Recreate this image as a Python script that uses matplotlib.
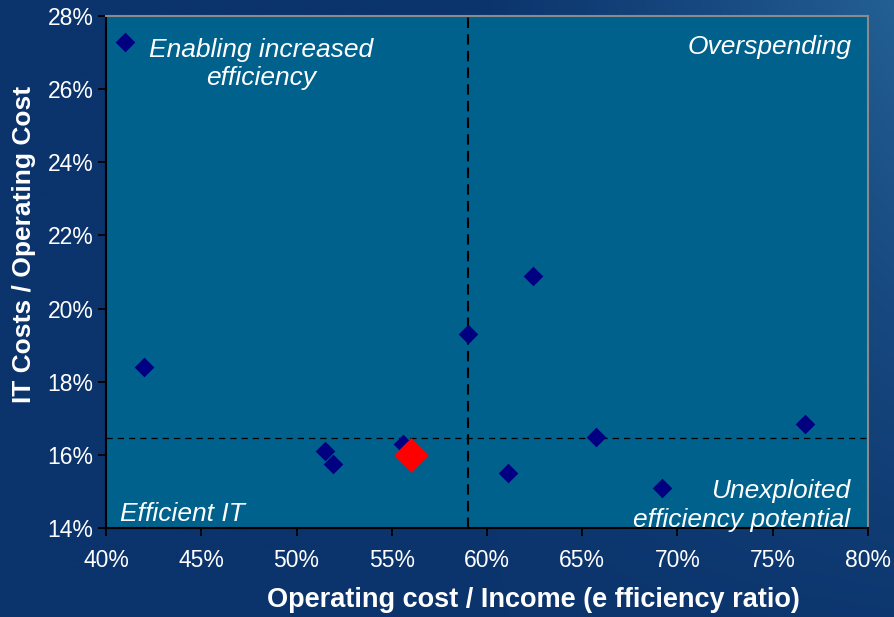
import numpy as np
import matplotlib
matplotlib.use("Agg")
import matplotlib.pyplot as plt
from matplotlib.ticker import FuncFormatter, MultipleLocator

# Data (efficiency ratio %, IT cost share %)
banks_x = [41.0, 42.0, 51.5, 51.9, 55.6, 59.0, 62.4, 61.1, 65.7, 69.2, 76.7]
banks_y = [27.3, 18.4, 16.1, 15.75, 16.3, 19.3, 20.9, 15.5, 16.5, 15.1, 16.85]
highlight_x = [56.0]
highlight_y = [16.0]
avg_x = 59.0
avg_y = 16.45

x_label = "Operating cost / Income (e fficiency ratio)"
y_label = "IT Costs / Operating Cost"
quadrants = [
    ("Enabling increased\nefficiency", 0.203, 0.958, "center", "top"),
    ("Overspending", 0.978, 0.963, "right", "top"),
    ("Efficient IT", 0.018, 0.003, "left", "bottom"),
    ("Unexploited\nefficiency potential", 0.976, -0.008, "right", "bottom"),
]

plt.rcParams['font.family'] = ['Liberation Sans', 'DejaVu Sans']

fig = plt.figure(figsize=(8.95, 6.17), dpi=100)

# background gradient
bg = fig.add_axes([0, 0, 1, 1], zorder=-10)
h, w = 200, 300
yy, xx = np.mgrid[0:1:h*1j, 0:1:w*1j]
c_dark = np.array([0x0b, 0x33, 0x6c]) / 255
c_light = np.array([0x2a, 0x6c, 0x9e]) / 255
t = np.clip((xx - 0.55) * 1.6 * (1 - yy) + 0.1 * xx, 0, 1) ** 1.2
img = c_dark[None, None, :] * (1 - t[..., None]) + c_light[None, None, :] * t[..., None]
bg.imshow(img, aspect='auto', extent=[0, 1, 0, 1], origin='upper')
bg.axis('off')

ax = fig.add_axes([106/895, 1 - 528/617, (868-106)/895, (528-16)/617])
ax.set_facecolor('#00618c')
ax.set_xlim(40, 80)
ax.set_ylim(14, 28)
ax.xaxis.set_major_locator(MultipleLocator(5))
ax.yaxis.set_major_locator(MultipleLocator(2))
fmt = FuncFormatter(lambda v, p: f"{v:.0f}%")
ax.xaxis.set_major_formatter(fmt)
ax.yaxis.set_major_formatter(fmt)

for s in ['left', 'bottom']:
    ax.spines[s].set_color('black')
    ax.spines[s].set_linewidth(1.5)
for s in ['top', 'right']:
    ax.spines[s].set_color('#8a8a8a')
    ax.spines[s].set_linewidth(1.5)

ax.tick_params(axis='both', direction='out', length=6, width=1.3, color='black',
               labelcolor='white', labelsize=16.5)
ax.tick_params(axis='x', pad=9)
ax.tick_params(axis='y', pad=3)

ax.axvline(avg_x, color='black', linestyle=(0, (5, 3)), linewidth=1.5, zorder=2)
ax.axhline(avg_y, color='black', linestyle=(0, (5, 4)), linewidth=0.9, zorder=2)

ax.scatter(banks_x, banks_y, marker='D', s=100, color='#000080', zorder=3, linewidths=0)
ax.scatter(highlight_x, highlight_y, marker='D', s=320, color='#ff0000', zorder=4, linewidths=0)

for txt, tx, ty, ha, va in quadrants:
    ax.text(tx, ty, txt, transform=ax.transAxes, ha=ha, va=va, color='white',
            style='italic', fontsize=19, linespacing=1.25)

ax.set_xlabel(x_label, color='white', fontsize=19.5, fontweight='bold')
ax.set_ylabel(y_label, color='white', fontsize=19, fontweight='bold')
ax.xaxis.set_label_coords((533 - 106) / 762, -0.115)
ax.yaxis.set_label_coords(-0.092, (528 - 244) / 512)

fig.savefig('out.png', dpi=100)
